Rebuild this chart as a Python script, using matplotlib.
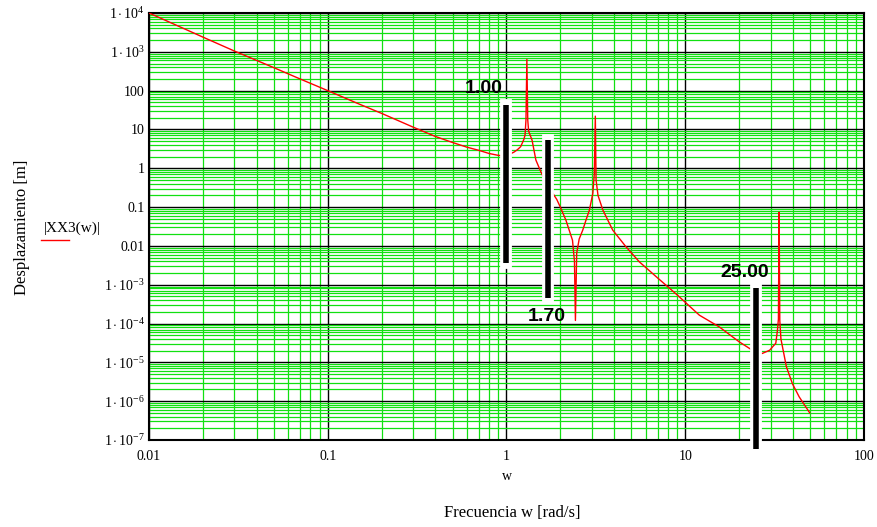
import matplotlib
matplotlib.use("Agg")
import matplotlib.pyplot as plt
from matplotlib.lines import Line2D
from matplotlib.ticker import LogLocator, NullFormatter

plt.rcParams["font.family"] = ["Liberation Serif", "DejaVu Serif"]
plt.rcParams["mathtext.fontset"] = "custom"
plt.rcParams["mathtext.rm"] = "Liberation Serif"
plt.rcParams["mathtext.it"] = "Liberation Serif:italic"

# Frequency response |XX3(w)|
w = [0.01, 0.02, 0.03, 0.05, 0.07, 0.1, 0.15, 0.2, 0.3, 0.4, 0.5, 0.6, 0.7, 0.8,
     0.9, 0.95, 1.0, 1.05, 1.1, 1.15, 1.2, 1.25, 1.27, 1.285, 1.30, 1.315, 1.33,
     1.39, 1.46, 1.55, 1.63, 1.7, 1.8, 1.91, 2.0, 2.15, 2.34, 2.40, 2.43, 2.47,
     2.55, 2.67, 2.8, 2.91, 3.04, 3.10, 3.14, 3.17, 3.25, 3.46, 3.93, 4.66, 5.53,
     7.0, 9.0, 12.0, 15.5, 20.0, 25.0, 27.0, 29.7, 31.0, 32.1, 32.8, 33.2, 33.5,
     33.8, 34.3, 35.0, 36.8, 39.8, 43.4, 49.7]
xx3 = [1.0e4, 2.4e3, 1.05e3, 390, 200, 100, 45, 26, 11.5, 6.6, 4.6, 3.5, 2.9, 2.4,
       2.15, 2.1, 2.2, 2.35, 2.6, 3.0, 3.6, 5.5, 7.2, 17.5, 640, 17.5, 9.0,
       5.3, 1.63, 0.85, 0.52, 0.35, 0.24, 0.158, 0.1, 0.046, 0.014, 0.004, 1.2e-4, 0.0065,
       0.015, 0.0255, 0.05, 0.084, 0.225, 0.74, 22, 0.5, 0.2, 0.084, 0.0255, 0.0095, 0.0039,
       1.5e-3, 5.5e-4, 1.64e-4, 8.2e-5, 3.4e-5, 1.76e-5, 1.7e-5, 2.06e-5, 2.6e-5, 3.1e-5, 6.8e-5, 1.3e-4, 0.074,
       1.2e-4, 4.0e-5, 2.5e-5, 7.7e-6, 2.8e-6, 1.29e-6, 5.0e-7]

# Vertical markers: position, lower and upper end
marker_w = [1.00, 1.70, 25.00]
marker_lo = [3.6e-3, 4.5e-4, 5.8e-8]
marker_hi = [42.5, 5.3, 8.2e-4]

ytick_vals = [1e-7, 1e-6, 1e-5, 1e-4, 1e-3, 1e-2, 1e-1, 1, 10, 100, 1e3, 1e4]
ytick_labels = [r"$1\cdot10^{-7}$", r"$1\cdot10^{-6}$", r"$1\cdot10^{-5}$",
                r"$1\cdot10^{-4}$", r"$1\cdot10^{-3}$", "0.01", "0.1", "1",
                "10", "100", r"$1\cdot10^{3}$", r"$1\cdot10^{4}$"]
xtick_vals = [0.01, 0.1, 1, 10, 100]
xtick_labels = ["0.01", "0.1", "1", "10", "100"]

W, H = 878, 527
fig = plt.figure(figsize=(W / 100, H / 100), dpi=100)
ax = fig.add_axes([149 / W, 87 / H, 715 / W, 427 / H])
ax.set_xscale("log")
ax.set_yscale("log")
ax.set_xlim(0.01, 100)
ax.set_ylim(1e-7, 1e4)

ax.xaxis.set_minor_locator(LogLocator(base=10, subs=range(2, 10), numticks=20))
ax.yaxis.set_minor_locator(LogLocator(base=10, subs=range(2, 10), numticks=30))
ax.xaxis.set_minor_formatter(NullFormatter())
ax.yaxis.set_minor_formatter(NullFormatter())
ax.set_xticks(xtick_vals)
ax.set_xticklabels(xtick_labels)
ax.set_yticks(ytick_vals)
ax.set_yticklabels(ytick_labels)
ax.tick_params(which="both", length=0, labelsize=10)
ax.tick_params(axis="x", pad=7)
ax.tick_params(axis="y", pad=3)

ax.set_axisbelow(True)
ax.grid(which="minor", color="#11e011", lw=0.9)
ax.grid(which="major", color="black", lw=1.0)
for s in ax.spines.values():
    s.set_linewidth(1.5)
    s.set_color("black")

ax.plot(w, xx3, color="red", lw=1.0, zorder=3)

# marker bars with white halo
for mw, lo, hi in zip(marker_w, marker_lo, marker_hi):
    ax.plot([mw, mw], [lo, hi], color="white", lw=8.5, solid_capstyle="projecting",
            zorder=5, clip_on=False)
    ax.plot([mw, mw], [lo, hi], color="black", lw=4.0, solid_capstyle="butt",
            zorder=6, clip_on=False)

lab_kw = dict(fontsize=14, fontweight="bold", family=["Liberation Sans", "DejaVu Sans"],
              textcoords="offset points", zorder=7, annotation_clip=False)
ax.annotate(f"{marker_w[0]:.2f}", xy=(marker_w[0], marker_hi[0]), xytext=(-3, 9),
            ha="right", va="baseline", **lab_kw)
ax.annotate(f"{marker_w[1]:.2f}", xy=(marker_w[1], marker_lo[1]), xytext=(-1, -7),
            ha="center", va="top", **lab_kw)
ax.annotate(f"{marker_w[2]:.2f}", xy=(marker_w[2], marker_hi[2]), xytext=(9, 8),
            ha="right", va="baseline", **lab_kw)

# axis captions
fig.text(507 / W, 1 - 476 / H, "w", ha="center", va="center", fontsize=10)
fig.text(512 / W, 1 - 513 / H, "Frecuencia w [rad/s]", ha="center", va="center",
         fontsize=12)
fig.text(22 / W, 1 - 227 / H, "Desplazamiento [m]", ha="center", va="center",
         rotation=90, fontsize=12)

# trace legend
fig.text(44 / W, 1 - 228 / H, "|XX3(w)|", ha="left", va="center", fontsize=11)
fig.add_artist(Line2D([41 / W, 69 / W], [1 - 240 / H] * 2, color="red", lw=1.0))

fig.savefig("out.png", dpi=100)
